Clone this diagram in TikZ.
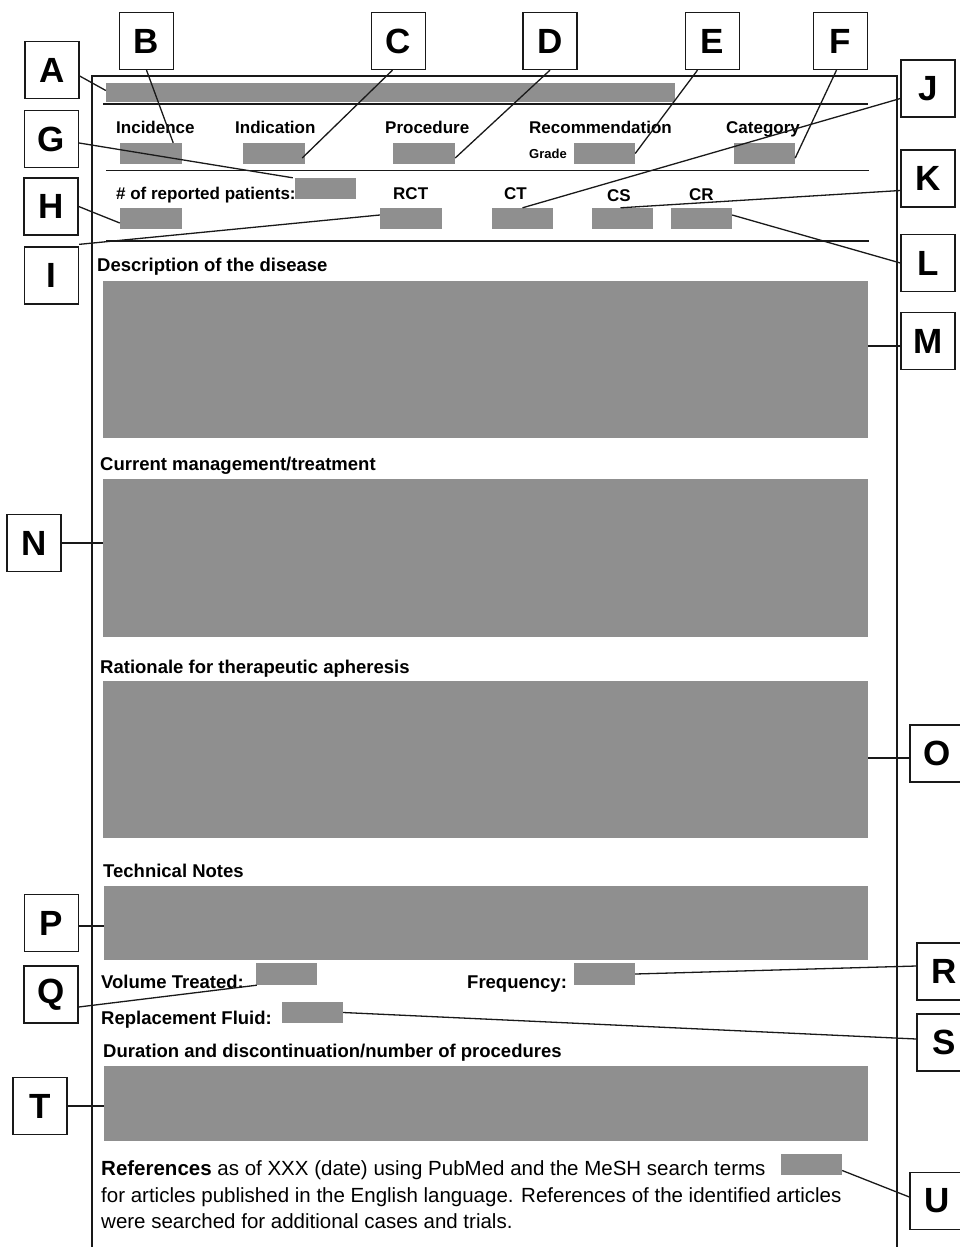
\documentclass[tikz,border=0pt]{standalone}
\usepackage{fontspec}
\setmainfont{Liberation Sans}
\usetikzlibrary{fit}
\definecolor{boxgray}{RGB}{143,143,143}
\definecolor{ink}{RGB}{25,25,25}
\begin{document}
\begin{tikzpicture}[x=1pt,y=-1pt,
  gbox/.style={fill=boxgray, draw=none, inner sep=0pt},
  lbox/.style={draw=ink, line width=1.3pt, fill=white, minimum width=54pt, minimum height=57pt, inner sep=0pt, font=\fontsize{35}{40}\selectfont\bfseries},
  lab/.style={anchor=base west, inner sep=0pt, font=\fontsize{17}{20}\selectfont\bfseries},
  small/.style={anchor=base west, inner sep=0pt, font=\fontsize{13}{15}\selectfont\bfseries},
  head/.style={anchor=base west, inner sep=0pt, font=\fontsize{18.5}{22}\selectfont\bfseries},
  reftext/.style={anchor=base west, inner sep=0pt, font=\fontsize{20.5}{24}\selectfont},
  conn/.style={draw=ink, line width=1.3pt},
  frameline/.style={draw=ink, line width=1.5pt},
  rule/.style={draw=ink, line width=1.4pt}]
\useasboundingbox (0,0) rectangle (959,1247);
\fill[white] (0,0) rectangle (959,1247);

% frame and rules
\draw[frameline] (92,1250) -- (92,76) -- (897,76) -- (897,1250);
\draw[rule] (103,104) -- (868,104);
\draw[rule] (106,170.5) -- (869,170.5);
\draw[rule] (106,241) -- (869,241);

% gray boxes
\node[gbox, fit={(106,83) (675,102)}] (bA) {};
\node[gbox, fit={(120,143) (182,164)}] (bInc) {};
\node[gbox, fit={(243,143) (305,164)}] (bInd) {};
\node[gbox, fit={(393,143) (455,164)}] (bProc) {};
\node[gbox, fit={(574,143) (635,164)}] (bGrade) {};
\node[gbox, fit={(734,143) (795,164)}] (bCat) {};
\node[gbox, fit={(295,178) (356,199)}] (bG) {};
\node[gbox, fit={(120,208) (182,229)}] (bH) {};
\node[gbox, fit={(380,208) (442,229)}] (bRCT) {};
\node[gbox, fit={(492,208) (553,229)}] (bCT) {};
\node[gbox, fit={(592,208) (653,229)}] (bCS) {};
\node[gbox, fit={(671,208) (732,229)}] (bCR) {};
\node[gbox, fit={(103,281) (868,438)}] (bM) {};
\node[gbox, fit={(103,479) (868,637)}] (bN) {};
\node[gbox, fit={(103,681) (868,838)}] (bO) {};
\node[gbox, fit={(104,886) (868,960)}] (bP) {};
\node[gbox, fit={(256,963) (317,985)}] (bQ) {};
\node[gbox, fit={(574,963) (635,985)}] (bR) {};
\node[gbox, fit={(282,1002) (343,1023)}] (bS) {};
\node[gbox, fit={(104,1066) (868,1141)}] (bT) {};
\node[gbox, fit={(781,1154) (842,1175)}] (bU) {};

% texts
\node[lab] (tInc) at (116,133) {Incidence};
\node[lab] (tInd) at (235,133) {Indication};
\node[lab] (tProc) at (385,133) {Procedure};
\node[lab] (tRec) at (529,133) {Recommendation};
\node[lab] (tCat) at (726,133) {Category};
\node[small] (tGrade) at (529,158) {Grade};
\node[lab] (tPat) at (116,199) {\# of reported patients:};
\node[lab] (tRCT) at (393,199) {RCT};
\node[lab] (tCT) at (504,199) {CT};
\node[lab] (tCS) at (607,201) {CS};
\node[lab] (tCR) at (689,200) {CR};
\node[head] (hDesc) at (97,271) {Description of the disease};
\node[head] (hCur) at (100,470) {Current management/treatment};
\node[head] (hRat) at (100,673) {Rationale for therapeutic apheresis};
\node[head] (hTech) at (103,877) {Technical Notes};
\node[head] (hVol) at (101,988) {Volume Treated:};
\node[head] (hFreq) at (467,988) {Frequency:};
\node[head] (hRep) at (101,1024) {Replacement Fluid:};
\node[head] (hDur) at (103,1057) {Duration and discontinuation/number of procedures};
\node[reftext] (r1) at (101,1175.5) {\textbf{References} as of XXX (date) using PubMed and the MeSH search terms};
\node[reftext] (r2) at (101,1202) {for articles published in the English language. References of the identified articles};
\node[reftext] (r3) at (101,1228) {were searched for additional cases and trials.};

% letter boxes
\node[lbox] (lA) at (52,70) {A};
\node[lbox] (lB) at (146.5,41) {B};
\node[lbox] (lC) at (398.5,41) {C};
\node[lbox] (lD) at (550,41) {D};
\node[lbox] (lE) at (712.5,41) {E};
\node[lbox] (lF) at (840.5,41) {F};
\node[lbox] (lG) at (51.5,139) {G};
\node[lbox] (lH) at (51,206.5) {H};
\node[lbox] (lI) at (51.5,275.5) {I};
\node[lbox] (lJ) at (928,88.5) {J};
\node[lbox] (lK) at (928,178.5) {K};
\node[lbox] (lL) at (928,263) {L};
\node[lbox] (lM) at (928,341) {M};
\node[lbox] (lN) at (34,543) {N};
\node[lbox] (lO) at (937,753.5) {O};
\node[lbox] (lP) at (51.5,923) {P};
\node[lbox] (lQ) at (51,994.5) {Q};
\node[lbox] (lR) at (944,971.5) {R};
\node[lbox] (lS) at (944,1042.5) {S};
\node[lbox] (lT) at (40,1106) {T};
\node[lbox] (lU) at (937,1201) {U};

% connector end points on the letter boxes
\coordinate (cM) at ([yshift=-5pt]lM.west);
\coordinate (cO) at ([yshift=-4.5pt]lO.west);
\coordinate (cP) at ([yshift=-3pt]lP.east);

% connectors
\draw[conn] ([yshift=-6pt]lA.east) -- ([yshift=2pt]bA.west);
\draw[conn] (lB.south) -- ([xshift=-9pt]bInc.north east);
\draw[conn] ([xshift=-6pt]lC.south) -- ([xshift=-3pt,yshift=-4.5pt]bInd.east);
\draw[conn] (lD.south) -- ([yshift=-4.5pt]bProc.east);
\draw[conn] ([xshift=-15pt]lE.south) -- (bGrade.east);
\draw[conn] ([xshift=-4pt]lF.south) -- ([yshift=-4.5pt]bCat.east);
\draw[conn] ([yshift=-4pt]lG.east) -- ([xshift=-2pt]bG.north west);
\draw[conn] (lH.east) -- ([yshift=-4.5pt]bH.west);
\draw[conn] ([yshift=2pt]lI.north east) -- ([yshift=3.5pt]bRCT.west);
\draw[conn] ([yshift=-10pt]lJ.west) -- (bCT.north);
\draw[conn] ([yshift=-12pt]lK.west) -- ([xshift=-2pt]bCS.north);
\draw[conn] (lL.west) -- ([yshift=3.5pt]bCR.east);
\draw[conn] (cM) -- (bM.east |- cM);
\draw[conn] (lN.east) -- (bN.west |- lN.east);
\draw[conn] (cO) -- (bO.east |- cO);
\draw[conn] (cP) -- (bP.west |- cP);
\draw[conn] ([yshift=-12.5pt]lQ.east) -- ([xshift=1pt]bQ.south west);
\draw[conn] ([yshift=5.5pt]lR.west) -- (bR.east);
\draw[conn] ([yshift=3.5pt]lS.west) -- (bS.east);
\draw[conn] (lT.east) -- (bT.west |- lT.east);
\draw[conn] ([yshift=4pt]lU.west) -- ([yshift=-6pt]bU.east);
\end{tikzpicture}
\end{document}
